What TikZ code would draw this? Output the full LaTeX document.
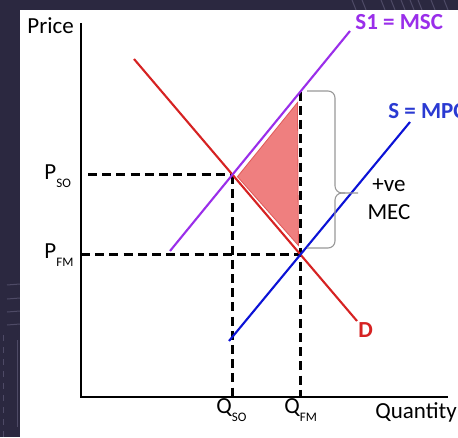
\documentclass[tikz,border=0pt]{standalone}
\usepackage{fontspec}
\setmainfont{Carlito}
\usetikzlibrary{calc,intersections,positioning}
\definecolor{bg}{HTML}{2B2840}
\definecolor{deco}{HTML}{4E4A66}
\definecolor{msc}{HTML}{9A2EEA}
\definecolor{mpc}{HTML}{0B12D6}
\definecolor{mpctxt}{HTML}{2A3AD2}
\definecolor{dem}{HTML}{D62222}
\definecolor{dwl}{HTML}{EF7F7F}
\newcommand{\sublbl}[2]{#1\raisebox{-4pt}{\fontsize{6.5}{7}\selectfont #2}}

\begin{document}
\begin{tikzpicture}[x=0.5pt,y=-0.5pt,
	lbl/.style={inner sep=0,anchor=base west,font=\fontsize{11.5}{13}\selectfont},
	bold/.style={lbl,font=\fontsize{11.5}{13}\selectfont\bfseries},
	curve/.style={line width=1.05pt},
	guide/.style={line width=1.4pt,dash pattern=on 4.5pt off 2.6pt},
	bracket/.style={gray!80,line width=0.55pt,rounded corners=3.5pt},
	]
	\useasboundingbox (0,0) rectangle (458,437);
	\fill[bg] (0,0) rectangle (458,437);
	\foreach \x in {352,362,381,391,401,410,418,431,444}{%
		\draw[deco,line width=0.5pt] (\x,0) -- (\x+4,10);}
	\foreach \y in {284,298,311,324}{%
		\draw[deco,line width=0.5pt] (7,\y+1) -- (20,\y);}
	\draw[deco,line width=0.5pt,dashed] (3,335) -- (3,437);
	\draw[deco,line width=0.5pt] (17,340) -- (17,427);
	\fill[white] (20,10) rectangle (458,437);
	
	% curve ends
	\coordinate (d1) at (134,59);   \coordinate (d2) at (357,321);
	\coordinate (s1a) at (170,251); \coordinate (s1b) at (350,31);
	\coordinate (sa) at (229,341);  \coordinate (sb) at (410,122);
	\coordinate (O) at (81,397);
	\coordinate (ytop) at (81,23);
	\coordinate (xend) at (448,397);
	
	\path[name path=dline] (d1) -- (d2);
	\path[name path=mscline] (s1a) -- (s1b);
	\path[name path=mpcline] (sa) -- (sb);
	\path[name intersections={of=dline and mscline,by=so}];
	\path[name intersections={of=dline and mpcline,by=fm}];
	\path[name path=vfm] (fm) -- ++(0,-250);
	\path[name intersections={of=vfm and mscline,by=top}];
	
	\filldraw[fill=dwl,draw=dem!75,line width=0.4pt]
		($(so)+(5,2)$) -- ($(top)+(-3,11)$) -- ($(fm)+(-2,-9)$) -- cycle;
	
	\draw[guide,shorten <=3.5pt] (so -| O) -- (so);
	\draw[guide] (fm -| O) -- (fm);
	\draw[guide] (so) -- (so |- O);
	\draw[guide] (top) -- (fm |- O);
	
	\draw[curve,dem] (d1) -- (d2);
	\draw[curve,msc] (s1a) -- (s1b);
	\draw[curve,mpc] (sa) -- (sb);
	\draw[line width=1.2pt] (ytop) -- (O) -- (xend);
	
	\draw[bracket] (307,91) -| (335,193) -- (358,193);
	\draw[bracket] (307,248) -| (335,193) -- (345,193);
	
	\node[lbl] (price) at (27,34) {Price};
	\node[lbl] (pso) at (44,180) {\sublbl{P}{SO}};
	\node[lbl] (pfm) at (44,258) {\sublbl{P}{FM}};
	\node[lbl] (qso) at (216,413) {\sublbl{Q}{SO}};
	\node[lbl] (qfm) at (284,413) {\sublbl{Q}{FM}};
	\node[lbl] (qty) at (375,418) {Quantity};
	\node[lbl,anchor=base] (ve) at (389,192) {+ve};
	\node[lbl,anchor=base] (mec) at (389,220) {MEC};
	\node[bold,text=dem] (dlab) at (358,337) {D};
	\node[bold,text=msc] (msclab) at (355,30) {S1 = MSC};
	\node[bold,text=mpctxt] (mpclab) at (388,119) {S = MPC};
\end{tikzpicture}
\end{document}
